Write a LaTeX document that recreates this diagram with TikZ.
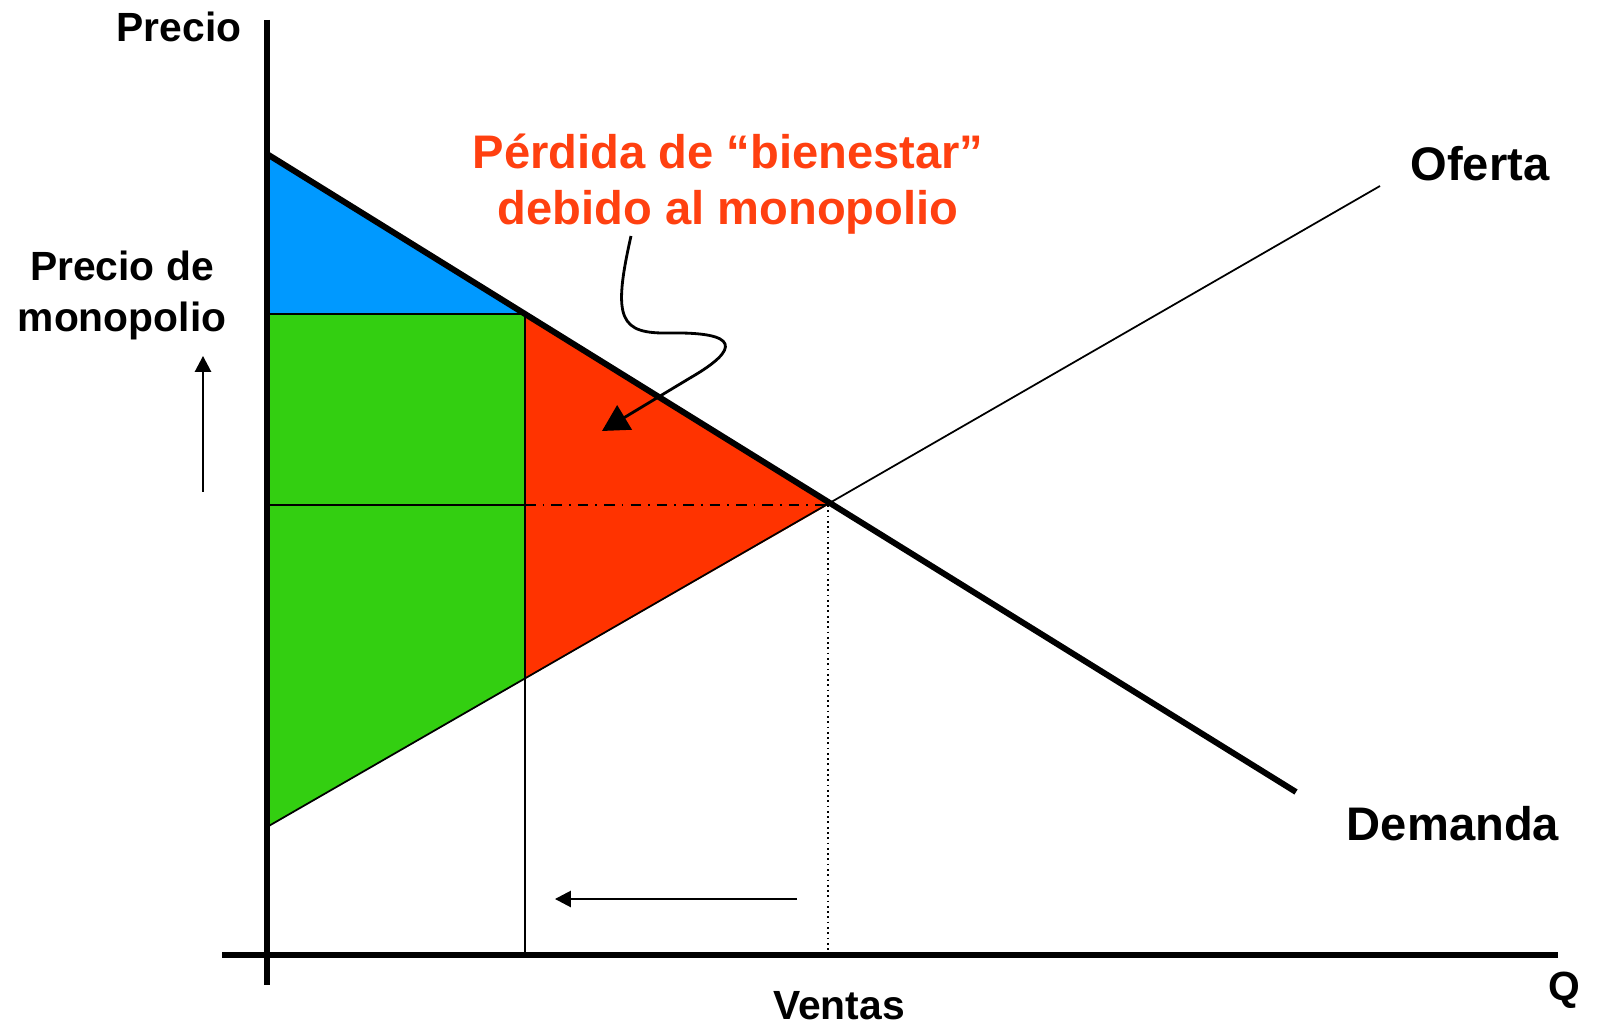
\documentclass[tikz,border=0pt]{standalone}
\usepackage{fontspec}
\setmainfont{Liberation Sans}
\usetikzlibrary{arrows.meta}
\definecolor{lossRed}{HTML}{FF3300}
\definecolor{lossText}{HTML}{FF4010}
\definecolor{surplusBlue}{HTML}{0099FF}
\definecolor{surplusGreen}{HTML}{33CF11}

\begin{document}
\begin{tikzpicture}[x=0.01cm, y=-0.01cm,
    axisStyle/.style={line width=1.7pt},
    demandStyle/.style={line width=1.7pt},
    thinStyle/.style={line width=0.5pt},
    labelStyle/.style={font=\fontsize{11.6}{14.7}\selectfont\bfseries, align=center},
    bigLabelStyle/.style={font=\fontsize{13.4}{16.2}\selectfont\bfseries, align=center},
    tipStyle/.style={-{Triangle[length=4.5pt, width=4.6pt]}, line width=0.5pt}]
    \useasboundingbox (0,0) rectangle (1597,1025);

    % points of the market
    \coordinate (yTop) at (267,20);
    \coordinate (yBottom) at (267,985);
    \coordinate (xLeft) at (222,955);
    \coordinate (xRight) at (1558,955);
    \coordinate (d0) at (267,154);
    \coordinate (d1) at (1296,792);
    \coordinate (s0) at (267,827);
    \coordinate (s1) at (1380,186);
    \coordinate (eq) at (828,505);
    \coordinate (pm) at (267,314);
    \coordinate (dm) at (525,314);
    \coordinate (sm) at (525,679);
    \coordinate (qm) at (525,955);
    \coordinate (qc) at (828,955);
    \coordinate (pc) at (267,505);
    \coordinate (mc) at (525,505);

    % areas
    \fill[surplusBlue] (d0) -- (dm) -- (pm) -- cycle;
    \fill[surplusGreen] (pm) -- (dm) -- (sm) -- (s0) -- cycle;
    \fill[lossRed] (dm) -- (eq) -- (sm) -- cycle;

    % lines
    \draw[line width=0.8pt] (pm) -- (dm);
    \draw[thinStyle] (pc) -- (mc);
    \draw[thinStyle, dash dot] (mc) -- (eq);
    \draw[line width=0.6pt] (dm) -- (qm);
    \draw[thinStyle, densely dotted] (eq) -- (qc);
    \draw[thinStyle] (s0) -- (s1);
    \draw[demandStyle] (d0) -- (d1);
    \draw[axisStyle] (yTop) -- (yBottom);
    \draw[axisStyle] (xLeft) -- (xRight);

    % labels
    \node[labelStyle, anchor=base] (precio) at (179,42) {Precio};
    \node[labelStyle, anchor=base] (monopolio) at (122,332) {Precio de\\monopolio};
    \node[labelStyle, anchor=base] (ventas) at (839,1019) {Ventas};
    \node[labelStyle, anchor=base] (q) at (1564,1000) {Q};
    \node[bigLabelStyle, anchor=base] (oferta) at (1480,181) {Oferta};
    \node[bigLabelStyle, anchor=base] (demanda) at (1453,840) {Demanda};
    \node[bigLabelStyle, anchor=base, text=lossText] (perdida) at (728,225)
        {P\'erdida de \textquotedblleft bienestar\textquotedblright\\debido al monopolio};

    % arrows
    \coordinate (upStart) at (203,492);
    \coordinate (upEnd) at (203,356);
    \draw[tipStyle] (upStart) -- (upEnd);
    \coordinate (leftStart) at (797,899);
    \coordinate (leftEnd) at (555,899);
    \draw[tipStyle] (leftStart) -- (leftEnd);
    \coordinate (callout) at (631,236);
    \coordinate (calloutEnd) at (602,431);
    \draw[line width=0.8pt, -{Triangle[length=7.5pt, width=8pt]}]
        (callout) .. controls (612,320) and (620,334) .. (670,333)
        .. controls (738,332) and (742,348) .. (690,378) -- (calloutEnd);
\end{tikzpicture}
\end{document}
